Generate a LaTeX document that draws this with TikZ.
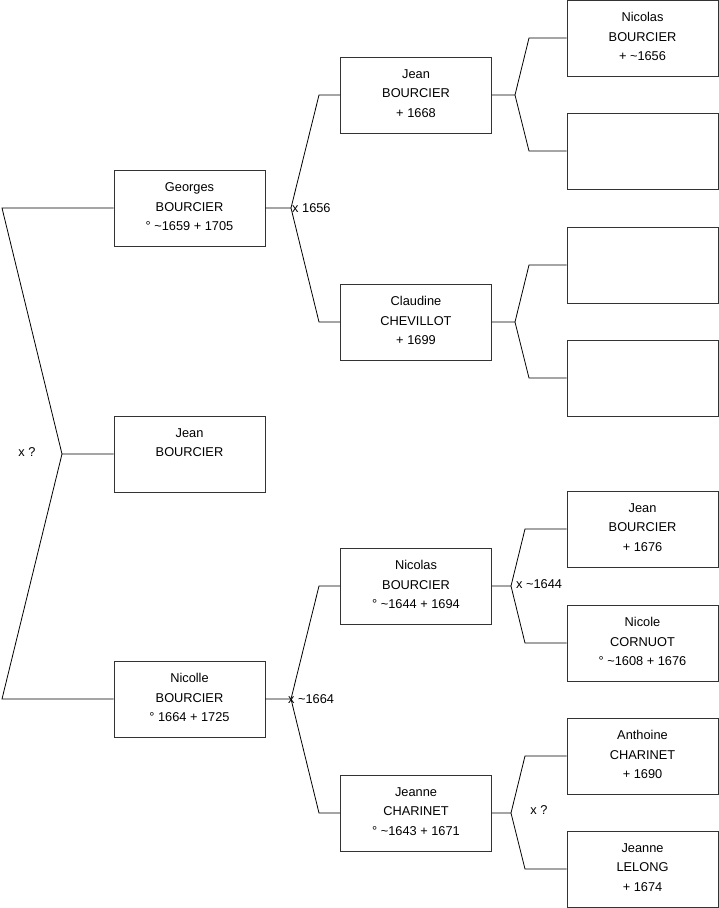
\documentclass[tikz,border=0pt]{standalone}
\usepackage{fontspec}
\setmainfont{Liberation Sans}
\usepackage{tikz}
\usetikzlibrary{calc}

% top-aligned text block inside a person box
\newcommand{\who}[1]{\parbox[c][51pt][t]{150pt}{\centering #1}}

\begin{document}
\begin{tikzpicture}[
  x=1pt, y=-1pt,
  person/.style={draw=black!80, line width=0.8pt, inner xsep=0pt, inner ysep=12.5pt,
    minimum width=151pt, minimum height=76pt, font=\fontsize{12.8}{19.6}\selectfont},
  link/.style={draw=black, line width=0.8pt},
  marr/.style={inner sep=0pt, font=\fontsize{12.8}{15}\selectfont},
]
\useasboundingbox (0,0) rectangle (719,908);

% --- Generation 1 (children)
\node[person] (georges) at (189.5,208) {\who{Georges\\BOURCIER\\° \textasciitilde1659 + 1705}};
\node[person] (jean)    at (189.5,454) {\who{Jean\\BOURCIER}};
\node[person] (nicolle) at (189.5,699) {\who{Nicolle\\BOURCIER\\° 1664 + 1725}};

% --- Generation 2 (parents)
\node[person] (jeanA)    at (416,95)  {\who{Jean\\BOURCIER\\+ 1668}};
\node[person] (claudine) at (416,322) {\who{Claudine\\CHEVILLOT\\+ 1699}};
\node[person] (nicolasB) at (416,586) {\who{Nicolas\\BOURCIER\\° \textasciitilde1644 + 1694}};
\node[person] (jeanneC)  at (416,813) {\who{Jeanne\\CHARINET\\° \textasciitilde1643 + 1671}};

% --- Generation 3 (grandparents)
\foreach \n/\yy/\txt in {%
  nicolasA/38/{Nicolas\\BOURCIER\\+ \textasciitilde1656},
  emptyA/151/{}, emptyB/265/{}, emptyC/378/{},
  jeanB/529/{Jean\\BOURCIER\\+ 1676},
  nicole/643/{Nicole\\CORNUOT\\° \textasciitilde1608 + 1676},
  anthoine/756/{Anthoine\\CHARINET\\+ 1690},
  jeanneL/869/{Jeanne\\LELONG\\+ 1674}%
} {
  \node[person] (\n) at (642.5,\yy) {\who{\txt}};
}

% --- Siblings bracket
\coordinate (cG) at (2,208);
\coordinate (vL) at (62,454);
\coordinate (cN) at (2,699);
\draw[link] (georges.west) -- (cG) -- (vL) -- (jean.west);
\draw[link] (vL) -- (cN) -- (nicolle.west);
\node[marr] (mSib) at (27,452) {x ?};

% --- Parent forks: child, upper parent, lower parent, vertex x, elbow x
\foreach \pa/\up/\dn/\vx/\ex in {%
  georges/jeanA/claudine/291/319,
  nicolle/nicolasB/jeanneC/291/319,
  jeanA/nicolasA/emptyA/515/529,
  claudine/emptyB/emptyC/515/529,
  nicolasB/jeanB/nicole/511/525,
  jeanneC/anthoine/jeanneL/511/525%
} {
  \draw[link] let \p1=(\pa.east), \p2=(\up.west), \p3=(\dn.west) in
    (\pa.east) -- (\vx pt,\y1) coordinate (v-\pa) -- (\ex pt,\y2) -- (\up.west)
    (v-\pa) -- (\ex pt,\y3) -- (\dn.west);
}

% --- Marriage labels
\node[marr, anchor=west] (mGeo) at (292,208) {x 1656};
\node[marr, anchor=west] (mNic) at (288,699) {x \textasciitilde1664};
\node[marr, anchor=west] (mNicB) at (516,584) {x \textasciitilde1644};
\node[marr] (mJea) at (539,810) {x ?};
\end{tikzpicture}
\end{document}
